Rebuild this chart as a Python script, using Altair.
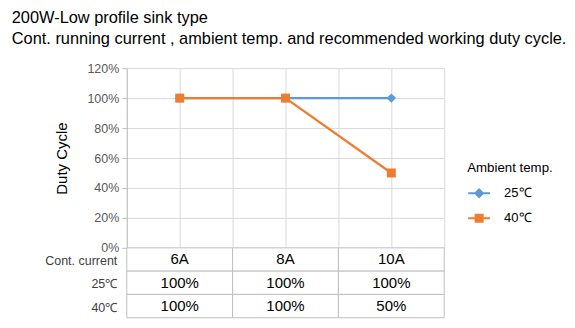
import altair as alt
import pandas as pd

# ---- data ----
currents = ["6A", "8A", "10A"]
series = ["25℃", "40℃"]
duty_25 = [1.0, 1.0, 1.0]
duty_40 = [1.0, 1.0, 0.5]
table_rows = ["Cont. current", "25℃", "40℃"]
y_ticks = [0, 0.2, 0.4, 0.6, 0.8, 1.0, 1.2]
x_grid = [-0.5, 0, 0.5, 1, 1.5, 2, 2.5]
colors = ["#5b9bd5", "#ed7d31"]
title_lines = [
    "200W-Low profile sink type",
    "Cont. running current , ambient temp. and recommended working duty cycle.",
]

rows = []
for i, c in enumerate(currents):
    rows.append({"idx": i, "current": c, "series": series[0], "duty": duty_25[i]})
    rows.append({"idx": i, "current": c, "series": series[1], "duty": duty_40[i]})
df = pd.DataFrame(rows)

trows = []
for i, c in enumerate(currents):
    trows.append({"row": table_rows[0], "current": c, "text": c})
    trows.append({"row": table_rows[1], "current": c, "text": f"{duty_25[i]:.0%}"})
    trows.append({"row": table_rows[2], "current": c, "text": f"{duty_40[i]:.0%}"})
tdf = pd.DataFrame(trows)

FONT = "Liberation Sans"
GRID = "#d9d9d9"
BORDER = "#bfbfbf"

x_enc = alt.X(
    "idx:Q",
    scale=alt.Scale(domain=[-0.5, 2.5], nice=False, zero=False),
    axis=alt.Axis(values=x_grid, labels=False, ticks=False, domain=False,
                  title=None, grid=True, gridColor=GRID),
)
y_enc = alt.Y(
    "duty:Q",
    scale=alt.Scale(domain=[0, 1.2], nice=False),
    axis=alt.Axis(values=y_ticks, format=".0%", title="Duty Cycle",
                  titleFont=FONT, titleFontSize=15, titleFontWeight="normal",
                  titleColor="#000000", titlePadding=17,
                  labelFont=FONT, labelFontSize=12.5, labelColor="#595959",
                  labelPadding=3, tickSize=5, tickColor=BORDER,
                  domainColor=BORDER, gridColor=GRID),
)
color_scale = alt.Scale(domain=series, range=colors)

sym_shape = ("datum.value === '" + series[0] + "' ? "
             "'M-1,0H1M0,-0.34L0.34,0L0,0.34L-0.34,0Z' : "
             "'M-1,0H1M-0.32,-0.32H0.32V0.32H-0.32Z'")

legend = alt.Legend(
    title="Ambient temp.", orient="none", legendX=341, legendY=93,
    titleFont=FONT, titleFontSize=13.3, titleFontWeight="normal", titleColor="#000000",
    labelFont=FONT, labelFontSize=13, labelColor="#000000",
    symbolSize=484, symbolStrokeWidth=2, rowPadding=5, titlePadding=7,
    labelOffset=13, symbolOpacity=1,
    symbolType=alt.ExprRef(expr=sym_shape),
    symbolStrokeColor=alt.ExprRef(expr="scale('color', datum.value)"),
    symbolFillColor=alt.ExprRef(expr="scale('color', datum.value)"),
)

lines = alt.Chart(df).mark_line(strokeWidth=2.25).encode(
    x=x_enc, y=y_enc,
    color=alt.Color("series:N", scale=color_scale, legend=legend),
)
pts_a = alt.Chart(df).transform_filter(alt.datum.series == series[0]).mark_point(
    filled=True, size=90, opacity=1, shape="diamond").encode(
    x=x_enc, y=y_enc, color=alt.Color("series:N", scale=color_scale, legend=None))
pts_b = alt.Chart(df).transform_filter(alt.datum.series == series[1]).mark_point(
    filled=True, size=81, opacity=1, shape="square").encode(
    x=x_enc, y=y_enc, color=alt.Color("series:N", scale=color_scale, legend=None))
plot = alt.layer(lines, pts_a, pts_b).properties(width=318, height=180)

tx = alt.X("current:N", sort=currents, scale=alt.Scale(paddingInner=0, paddingOuter=0), axis=None)
ty = alt.Y("row:N", sort=table_rows, scale=alt.Scale(paddingInner=0, paddingOuter=0),
           axis=alt.Axis(title=None, domain=False, ticks=False, labelFont=FONT,
                         labelFontSize=12.5, labelColor="#404040", labelPadding=10,
                         labelOffset=1.5))
cells = alt.Chart(tdf).mark_rect(fill="white", stroke=BORDER, strokeWidth=1).encode(x=tx, y=ty)
texts = alt.Chart(tdf).mark_text(font=FONT, fontSize=15, color="#000000").encode(
    x=tx, y=ty, text="text:N")
table = alt.layer(cells, texts).properties(width=318, height=70)

chart = alt.vconcat(plot, table, spacing=0, bounds="flush").properties(
    title=alt.TitleParams(text=title_lines, anchor="start", font=FONT, fontSize=16.4,
                          fontWeight="normal", color="#000000", lineHeight=21,
                          dx=-33, offset=15),
    padding={"left": 3, "top": 1, "right": 0, "bottom": 0},
).configure_view(stroke=None)

chart.save("out.html", embed_options={"renderer": "svg", "actions": False})
